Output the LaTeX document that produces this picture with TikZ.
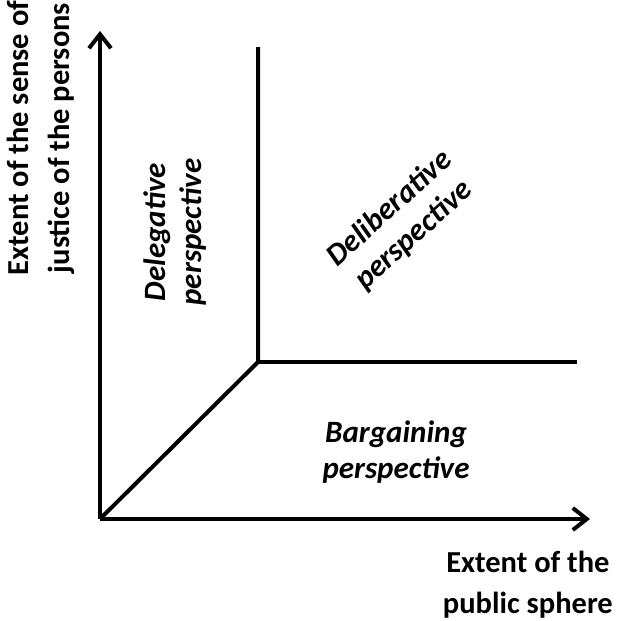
\documentclass[tikz,border=0pt]{standalone}
\usepackage{fontspec}
\setmainfont{Carlito}
\usetikzlibrary{arrows.meta}
\begin{document}
\begin{tikzpicture}[x=1pt,y=-1pt,
  axis/.style={line width=4pt,-{Straight Barb[length=14pt,width=22pt,line width=4pt]}},
  bound/.style={line width=4pt},
  lbl/.style={font=\fontsize{30.5}{41}\selectfont\bfseries,align=center,inner sep=0pt},
  reg/.style={font=\fontsize{31}{36}\selectfont\bfseries\itshape,align=center,inner sep=0pt}]
\useasboundingbox (0,0) rectangle (624,621);
\coordinate (O) at (100,519);
\coordinate (Ytop) at (100,31);
\coordinate (Xend) at (590,519);
\coordinate (C) at (258,362);
\coordinate (Vtop) at (258,47);
\coordinate (Hend) at (577,362);
\draw[axis] (O) -- (Ytop);
\draw[axis] (O) -- (Xend);
\draw[bound,line join=miter] (O) -- (C) -- (Vtop);
\draw[bound] (C) -- (Hend);
\node[lbl,rotate=90] (ylab) at (41,138) {Extent of the sense of\\justice of the persons};
\node[lbl,anchor=east] (xlab) at (613,585) {Extent of the\\public sphere};
\node[reg,rotate=90] (dele) at (175,232) {Delegative\\perspective};
\node[reg,rotate=42] (deli) at (402,222) {Deliberative\\perspective};
\node[reg] (barg) at (396,452) {Bargaining\\perspective};
\end{tikzpicture}
\end{document}
